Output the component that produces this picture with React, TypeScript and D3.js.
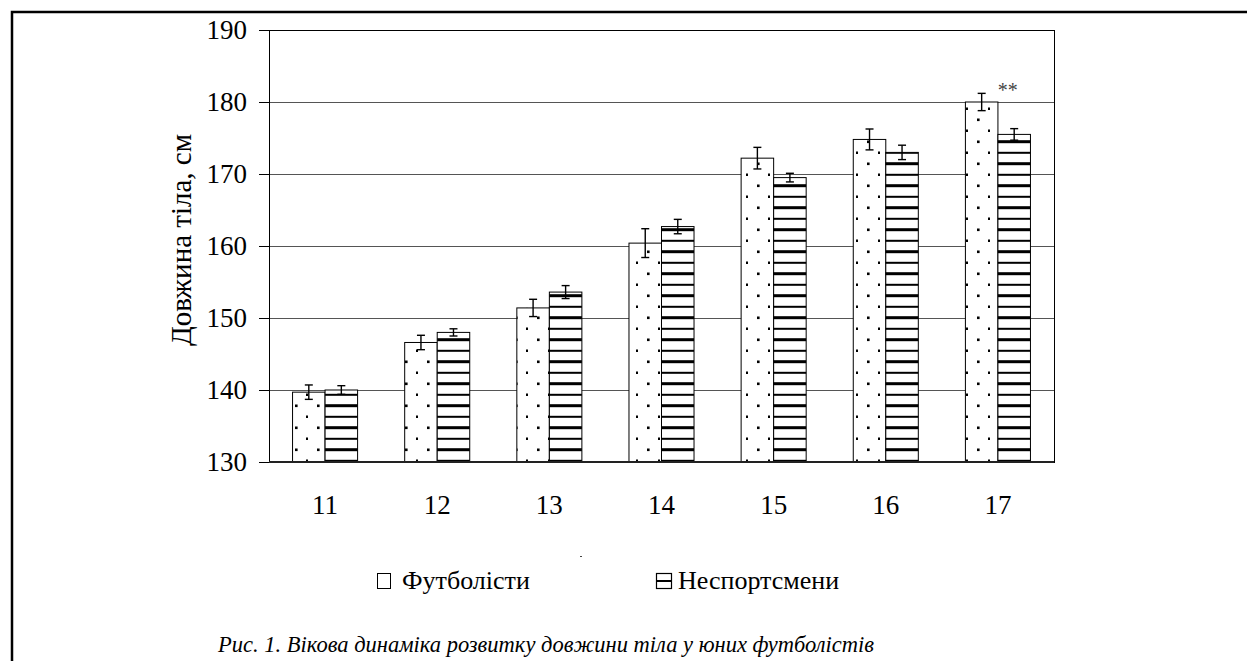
import React from "react";
import * as d3 from "d3";

// Age groups (years) and mean body length, cm
const ages = ["11", "12", "13", "14", "15", "16", "17"];
const footballers = [139.7, 146.6, 151.4, 160.4, 172.2, 174.8, 180.0];
const footballersErr = [1.0, 1.0, 1.2, 2.0, 1.5, 1.45, 1.2];
const nonAthletes = [140.0, 148.0, 153.6, 162.7, 169.5, 173.0, 175.5];
const nonAthletesErr = [0.6, 0.5, 0.9, 1.0, 0.6, 1.0, 0.8];
const yTicks = [130, 140, 150, 160, 170, 180, 190];
const seriesNames = ["Футболісти", "Неспортсмени"];
const yTitle = "Довжина тіла, см";
const caption = "Рис. 1. Вікова динаміка розвитку довжини тіла у юних футболістів";
const significance = [{ age: "17", mark: "**" }];

const W = 1247;
const H = 661;
const plot = { left: 269, right: 1054, top: 30, bottom: 462 };
const serif = "Liberation Serif, Tinos, DejaVu Serif, serif";
const txt = { fontFamily: serif };

export default function App() {
  const x = d3
    .scaleBand<string>()
    .domain(ages)
    .range([plot.left, plot.right])
    .paddingInner(0.42)
    .paddingOuter(0.21);
  const inner = d3
    .scaleBand<string>()
    .domain(seriesNames)
    .range([0, x.bandwidth()]);
  const y = d3.scaleLinear().domain([130, 190]).range([plot.bottom, plot.top]);

  const series = [
    { name: seriesNames[0], values: footballers, err: footballersErr, fill: "url(#dots)" },
    { name: seriesNames[1], values: nonAthletes, err: nonAthletesErr, fill: "url(#stripes)" },
  ];

  return (
    <svg
      width={W}
      height={H}
      style={{ position: "absolute", left: 0, top: 0, background: "#fff" }}
    >
      <defs>
        <pattern id="dots" patternUnits="userSpaceOnUse" width={22} height={22}>
          <rect width={22} height={22} fill="#fff" />
          <rect x={9} y={8.5} width={2.6} height={2.6} fill="#000" />
          <rect x={20} y={19.5} width={2.6} height={2.6} fill="#000" />
        </pattern>
        <pattern id="stripes" patternUnits="userSpaceOnUse" width={22} height={22}>
          <rect width={22} height={22} fill="#fff" />
          <rect x={0} y={8.2} width={22} height={3} fill="#000" />
          <rect x={0} y={19.8} width={22} height={2} fill="#000" />
        </pattern>
      </defs>

      {/* page frame */}
      <rect x={12} y={12} width={1300} height={800} fill="none" stroke="#000" strokeWidth={2.5} />

      {/* grid lines */}
      {yTicks.slice(1, -1).map((t) => (
        <line
          key={t}
          x1={plot.left}
          x2={plot.right}
          y1={Math.round(y(t)) + 0.5}
          y2={Math.round(y(t)) + 0.5}
          stroke="#555"
          strokeWidth={1}
        />
      ))}

      {/* plot border */}
      <rect
        x={plot.left + 0.5}
        y={plot.top + 0.5}
        width={plot.right - plot.left}
        height={plot.bottom - plot.top}
        fill="none"
        stroke="#000"
        strokeWidth={1}
      />

      {/* bars */}
      {series.map((s) =>
        ages.map((a, i) => {
          const bx = (x(a) ?? 0) + (inner(s.name) ?? 0);
          const top = y(s.values[i]);
          return (
            <rect
              key={s.name + a}
              x={bx}
              y={top}
              width={inner.bandwidth()}
              height={plot.bottom - top}
              fill={s.fill}
              stroke="#000"
              strokeWidth={1}
            />
          );
        })
      )}

      {/* error bars */}
      {series.map((s) =>
        ages.map((a, i) => {
          const cx = (x(a) ?? 0) + (inner(s.name) ?? 0) + inner.bandwidth() / 2;
          const y1 = y(s.values[i] + s.err[i]);
          const y2 = y(s.values[i] - s.err[i]);
          return (
            <g key={"e" + s.name + a} stroke="#000" strokeWidth={1.4}>
              <line x1={cx} x2={cx} y1={y1} y2={y2} />
              <line x1={cx - 4} x2={cx + 4} y1={y1} y2={y1} />
              <line x1={cx - 4} x2={cx + 4} y1={y2} y2={y2} />
            </g>
          );
        })
      )}

      {/* baseline */}
      <line x1={plot.left} x2={plot.right} y1={plot.bottom} y2={plot.bottom} stroke="#222" strokeWidth={2} />

      {/* y axis ticks and labels */}
      {yTicks.map((t) => (
        <g key={"t" + t}>
          <line
            x1={plot.left - 10}
            x2={plot.left}
            y1={Math.round(y(t)) + 0.5}
            y2={Math.round(y(t)) + 0.5}
            stroke="#000"
          />
          <text x={247} y={y(t) + 9} textAnchor="end" fontSize={27} fill="#000" style={txt}>
            {t}
          </text>
        </g>
      ))}

      {/* x labels */}
      {ages.map((a) => (
        <text
          key={"x" + a}
          x={(x(a) ?? 0) + x.bandwidth() / 2}
          y={514}
          textAnchor="middle"
          fontSize={27}
          fill="#000"
          style={txt}
        >
          {a}
        </text>
      ))}

      {/* y title */}
      <text
        transform={`translate(191, 240) rotate(-90)`}
        textAnchor="middle"
        fontSize={29}
        fill="#000"
        style={txt}
      >
        {yTitle}
      </text>

      {/* significance marks */}
      {significance.map((m) => {
        const i = ages.indexOf(m.age);
        const cx = (x(m.age) ?? 0) + (inner(seriesNames[0]) ?? 0) + inner.bandwidth() / 2;
        return (
          <text
            key={"s" + m.age}
            x={cx + 16}
            y={y(footballers[i] + footballersErr[i]) + 4}
            fontSize={20}
            fill="#444"
            style={txt}
          >
            {m.mark}
          </text>
        );
      })}

      {/* legend */}
      <rect x={580} y={556} width={2} height={1} fill="#444" />
      <rect x={377.5} y={573.5} width={13} height={15} fill="#fff" stroke="#000" strokeWidth={1} />
      <text x={402} y={589} fontSize={26} fill="#000" style={txt}>
        {seriesNames[0]}
      </text>
      <rect x={656.5} y={573.5} width={15} height={15} fill="#fff" stroke="#000" strokeWidth={1.2} />
      <line x1={656.5} x2={671.5} y1={581} y2={581} stroke="#000" strokeWidth={2} />
      <text x={678} y={589} fontSize={26} fill="#000" style={txt}>
        {seriesNames[1]}
      </text>

      {/* caption */}
      <text x={218} y={652} fontSize={22.5} fontStyle="italic" fill="#000" style={txt}>
        {caption}
      </text>
    </svg>
  );
}
